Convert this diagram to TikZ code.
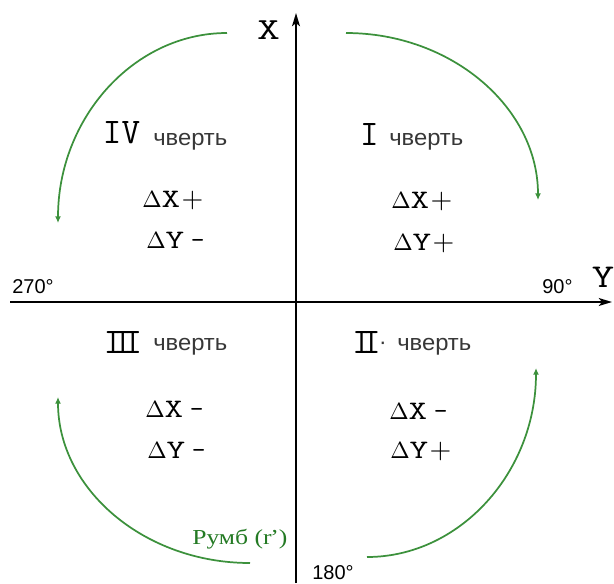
\documentclass[tikz,border=0pt]{standalone}
\usepackage[no-math]{fontspec}
\usepackage{graphicx}
\setmainfont{Liberation Sans}
\newfontfamily\rumbfont{Liberation Serif}
\usetikzlibrary{arrows.meta}
\definecolor{arcgreen}{RGB}{60,145,60}
\definecolor{txtgreen}{RGB}{36,122,36}
\definecolor{quartgrey}{RGB}{55,55,55}
\newcommand{\slabX}[1]{\scalebox{1.35}[1]{\ttfamily\fontsize{20}{22}\selectfont #1}}
\newcommand{\dlt}{\scalebox{1.75}{$\Delta$}}
\newcommand{\pls}{\scalebox{2.1}{$+$}}
\newcommand{\mns}{{\ttfamily\fontsize{20}{22}\selectfont -}}
\tikzset{
  axis/.style={line width=1.2pt, -{Stealth[length=10pt,width=6pt,inset=2.5pt]}},
  arcline/.style={arcgreen, line width=1.3pt, -{Latex[length=5pt,width=4.5pt]}},
  numstyle/.style={font=\ttfamily\fontsize{27}{29}\selectfont, inner sep=0pt, anchor=base},
  quart/.style={font=\fontsize{17}{19}\selectfont, text=quartgrey, inner sep=0pt, anchor=base west},
  deg/.style={font=\fontsize{15}{17}\selectfont, inner sep=0pt, anchor=base west},
  dl/.style={inner sep=0pt, anchor=base west},
  axlabel/.style={inner sep=0pt}
}
\begin{document}
\begin{tikzpicture}[x=0.75pt,y=-0.75pt]
\useasboundingbox (0,0) rectangle (614,583);
% axes
\coordinate (ybot) at (296,583);
\coordinate (xtop) at (296,13);
\coordinate (xleft) at (10,302);
\coordinate (xright) at (612,302);
\draw[axis] (ybot) -- (xtop);
\draw[axis] (xleft) -- (xright);
% axis labels
\node[axlabel] (lX) at (268.5,30.5) {\scalebox{1.45}[1]{\ttfamily\fontsize{23}{24}\selectfont X}};
\node[axlabel] (lY) at (603,277) {\scalebox{1.3}[1]{\ttfamily\fontsize{25}{26}\selectfont Y}};
% degrees
\node[deg] (d270) at (12,293) {270°};
\node[deg] (d90) at (542,293) {90°};
\node[deg] (d180) at (312,579) {180°};
% arcs
\coordinate (a1s) at (227,33);
\coordinate (a1e) at (58,223);
\coordinate (a2s) at (346,33);
\coordinate (a2e) at (538,200);
\coordinate (a3s) at (250,563);
\coordinate (a3e) at (58,397);
\coordinate (a4s) at (367,557);
\coordinate (a4e) at (536,368);
\draw[arcline] (a1s) .. controls (134,33) and (58,118) .. (a1e);
\draw[arcline] (a2s) .. controls (452,33) and (538,108) .. (a2e);
\draw[arcline] (a3s) .. controls (144,563) and (58,489) .. (a3e);
\draw[arcline] (a4s) .. controls (460,557) and (536,472) .. (a4e);
% quarter labels
\node[numstyle] (nIV) at (121.5,143) {IV};
\node[quart] (q4) at (153,145) {\scalebox{1.05}[1]{чверть}};
\node[numstyle] (nI) at (369.5,145) {I};
\node[quart] (q1) at (389,145) {\scalebox{1.05}[1]{чверть}};
\node[numstyle] (nIII) at (123,353) {I\kern-0.24em I\kern-0.24em I};
\node[quart] (q3) at (153,350) {\scalebox{1.05}[1]{чверть}};
\node[numstyle] (nII) at (366.5,353) {I\kern-0.24em I};
\node[font=\fontsize{17}{19}\selectfont, inner sep=0pt, text=quartgrey] (dot) at (383,346) {·};
\node[quart] (q2) at (397,350) {\scalebox{1.05}[1]{чверть}};
% deltas
\node[dl] (tl1) at (142,207) {\dlt\slabX{X}\hspace{1pt}\pls};
\node[dl] (tl2) at (146,248) {\dlt\slabX{Y}\hspace{5pt}\mns};
\node[dl] (tr1) at (391,208) {\dlt\slabX{X}\hspace{1pt}\pls};
\node[dl] (tr2) at (393,250) {\dlt\slabX{Y}\hspace{1pt}\pls};
\node[dl] (bl1) at (145,417) {\dlt\slabX{X}\hspace{5pt}\mns};
\node[dl] (bl2) at (147,458) {\dlt\slabX{Y}\hspace{5pt}\mns};
\node[dl] (br1) at (389,419) {\dlt\slabX{X}\hspace{5pt}\mns};
\node[dl] (br2) at (390,458) {\dlt\slabX{Y}\hspace{1pt}\pls};
% rumb label
\node[text=txtgreen, font=\rumbfont\fontsize{16}{18}\selectfont, anchor=base west, inner sep=0pt] (rumb) at (192,544) {\scalebox{1.2}[1]{Румб (r\kern-0.05em’)}};
\end{tikzpicture}
\end{document}
